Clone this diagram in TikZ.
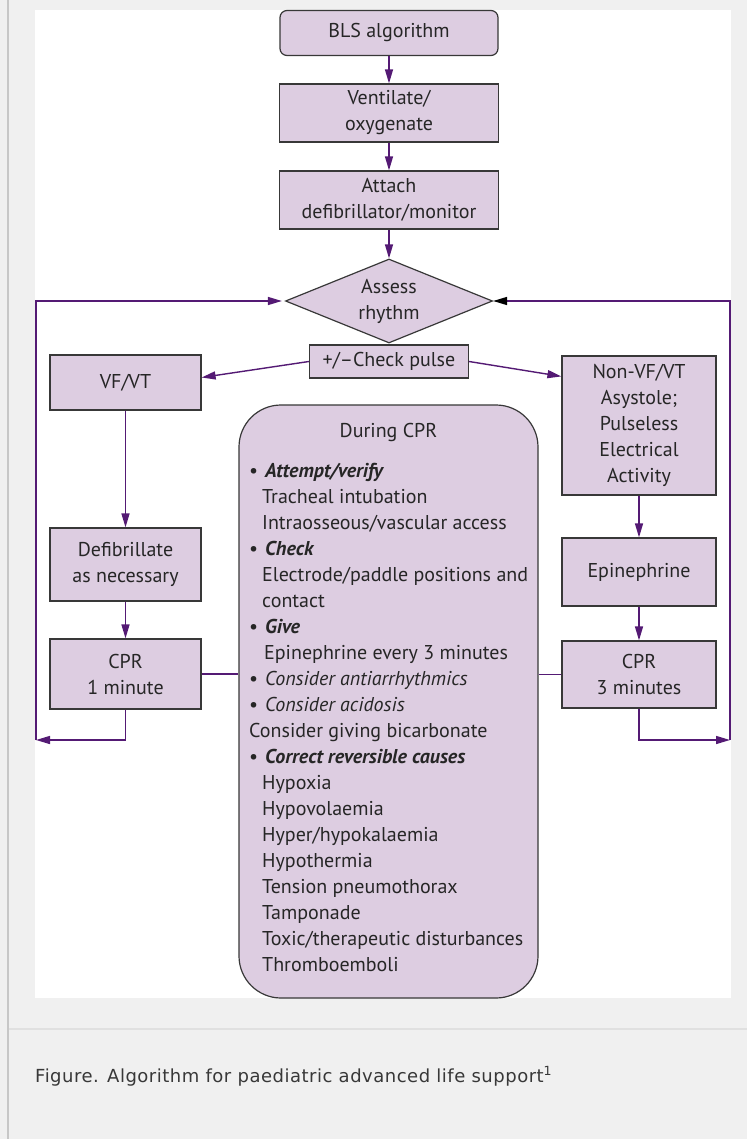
\documentclass[tikz,border=0pt]{standalone}
\usepackage{fontspec}
\setmainfont{PT Sans}
\newfontfamily\capfont[LetterSpace=2.8]{DejaVu Sans}
\usepackage{xcolor}
\usetikzlibrary{arrows.meta,shapes.geometric}
\definecolor{boxfill}{RGB}{221,205,225}
\definecolor{flowline}{RGB}{84,26,116}
\definecolor{pagegrey}{RGB}{240,240,240}

\begin{document}
\begin{tikzpicture}[x=1pt, y=-1pt,
      bx/.style={draw=black!78, fill=boxfill, line width=1.2pt, inner sep=0pt, align=center,
        text=black!85, font=\fontsize{20}{26}\selectfont},
      arr/.style={-{Triangle[length=14pt, width=8pt]}, draw=flowline, line width=1.4pt},
      ln/.style={draw=flowline, line width=1.4pt}]
    % page and caption area
    \useasboundingbox (0,0) rectangle (747,1139);
    \fill[pagegrey] (0,0) rectangle (747,1139);
    \fill[white] (35,10) rectangle (731,998);
    \draw[black!22, line width=2pt] (8,0) -- (8,1139);
    \draw[black!12, line width=2pt] (9,1029) -- (747,1029);
    \node[anchor=base west, inner sep=0pt, text=black!78, font=\capfont\fontsize{18}{20}\selectfont] (caption) at (35,1082)
      {Figure. Algorithm for paediatric advanced life support\textsuperscript{1}};

    % centre column
    \node[bx, rounded corners=7pt, minimum width=218pt, minimum height=45pt] (bls) at (389,33) {BLS algorithm};
    \node[bx, minimum width=219pt, minimum height=58pt] (vent) at (389,113) {Ventilate/\\oxygenate};
    \node[bx, minimum width=219pt, minimum height=58pt] (attach) at (389,200) {Attach\\defibrillator/monitor};
    \node[bx, diamond, aspect=2.46, minimum width=207pt, minimum height=84pt] (assess) at (389,301) {Assess\\rhythm};
    \node[bx, minimum width=159pt, minimum height=33pt] (pulse) at (389,361.5) {+/\textendash Check pulse};

    % left branch
    \node[bx, minimum width=151pt, minimum height=55pt] (vf) at (125.5,382.5) {VF/VT};
    \node[bx, minimum width=151pt, minimum height=73pt] (defib) at (125.5,564.5) {Defibrillate\\as necessary};
    \node[bx, minimum width=151pt, minimum height=70pt] (cprone) at (125.5,674) {CPR\\1 minute};

    % right branch
    \node[bx, minimum width=154pt, minimum height=139pt] (nonvf) at (639,425.5) {Non-VF/VT\\Asystole;\\Pulseless\\Electrical\\Activity};
    \node[bx, minimum width=154pt, minimum height=68pt] (epi) at (639,572) {Epinephrine};
    \node[bx, minimum width=154pt, minimum height=67pt] (cprthree) at (639,674.5) {CPR\\3 minutes};

    % during CPR panel
    \node[bx, rounded corners=42pt, minimum width=299pt, minimum height=593pt] (during) at (388.5,701.5) {};
    \node[text=black!85, font=\fontsize{20}{26}\selectfont] (duringhd) at (388.5,432) {During CPR};
    \foreach \dx/\txt [count=\k] in {
        0/{\makebox[16pt][l]{\textbullet}\textbf{\textit{Attempt/verify}}},
        13/{Tracheal intubation},
        13/{Intraosseous/vascular access},
        0/{\makebox[16pt][l]{\textbullet}\textbf{\textit{Check}}},
        13/{Electrode/paddle positions and},
        13/{contact},
        0/{\makebox[16pt][l]{\textbullet}\textbf{\textit{Give}}},
        15/{Epinephrine every 3 minutes},
        0/{\makebox[16pt][l]{\textbullet}\textit{Consider antiarrhythmics}},
        0/{\makebox[16pt][l]{\textbullet}\textit{Consider acidosis}},
        0/{Consider giving bicarbonate},
        0/{\makebox[16pt][l]{\textbullet}\textbf{\textit{Correct reversible causes}}},
        13/{Hypoxia},
        13/{Hypovolaemia},
        13/{Hyper/hypokalaemia},
        13/{Hypothermia},
        13/{Tension pneumothorax},
        13/{Tamponade},
        13/{Toxic/therapeutic disturbances},
        13/{Thromboemboli}} {
      \node[anchor=base west, inner sep=0pt, text=black!85, font=\fontsize{20}{26}\selectfont]
        (item\k) at (249+\dx, 477+26.05*\k-26.05) {\txt};
    }

    % connectors
    \draw[arr] (bls) -- (vent);
    \draw[arr] (vent) -- (attach);
    \draw[arr] (attach) -- (assess);
    \draw[arr] (pulse.west) -- ([yshift=5pt]vf.east);
    \draw[arr] (pulse.east) -- ([yshift=-21pt]nonvf.north west);
    \draw[arr] (vf) -- (defib);
    \draw[arr] (defib) -- (cprone);
    \draw[arr] (nonvf) -- (epi);
    \draw[arr] (epi) -- (cprthree);
    \draw[ln] (cprone.east) -- (cprone.east -| during.west);
    \draw[ln] (cprthree.west) -- (cprthree.west -| during.east);

    % loops back to the rhythm check
    \coordinate (lbot) at (36,740);
    \coordinate (rbot) at (730,740);
    \draw[arr] (cprone.south) |- (lbot);
    \draw[arr] (lbot) |- ([xshift=-3pt]assess.west);
    \draw[arr] (cprthree.south) |- (rbot);
    \draw[arr, -{Triangle[length=14pt, width=8pt, color=black]}] (rbot) |- (assess.east);
  \end{tikzpicture}
\end{document}
